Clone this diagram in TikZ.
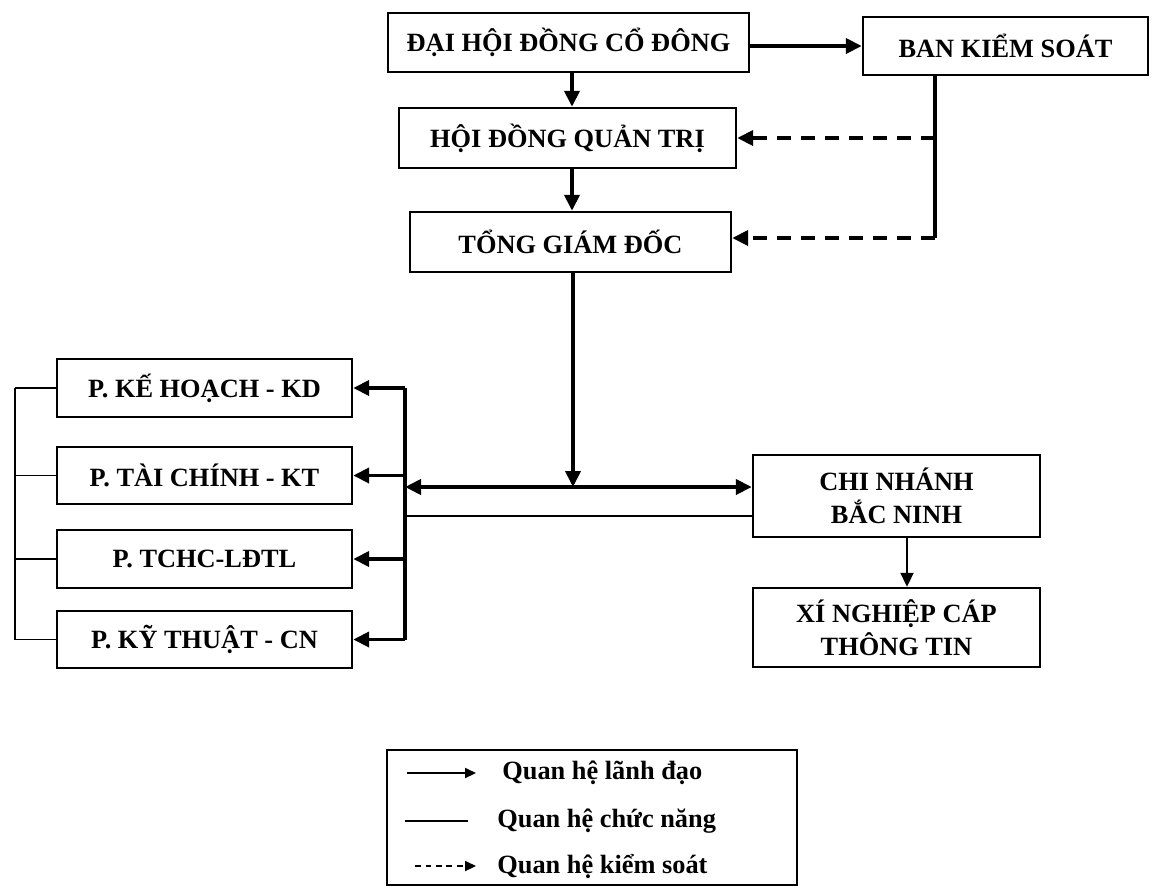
\documentclass[tikz,border=0pt]{standalone}
\usepackage{fontspec}
\setmainfont{Liberation Serif}
\usetikzlibrary{arrows.meta,positioning}

\tikzset{
  unit/.style={draw, line width=1.4pt, align=center, inner sep=2pt,
    font=\fontsize{15pt}{19pt}\selectfont\bfseries},
  lead/.style={line width=2.2pt, -{Triangle[length=0.32cm,width=0.3cm]}},
  ctrl/.style={lead, dash pattern=on 0.28cm off 0.2cm},
  func/.style={line width=1pt},
  keytext/.style={anchor=west, inner sep=0pt, font=\fontsize{15pt}{18pt}\selectfont\bfseries},
}

\begin{document}
\begin{tikzpicture}[x=0.02cm, y=-0.02cm]
  \useasboundingbox (0,0) rectangle (1157,893);

  % Top levels
  \node[unit, minimum width=7.22cm, minimum height=1.18cm] (dhcd) at (568.5,42.5) {ĐẠI HỘI ĐỒNG CỔ ĐÔNG};
  \node[unit, minimum width=5.70cm, minimum height=1.16cm] (bks) at (1005.5,46) {BAN KIỂM SOÁT};
  \node[unit, minimum width=6.74cm, minimum height=1.20cm] (hdqt) at (567.5,138) {HỘI ĐỒNG QUẢN TRỊ};
  \node[unit, minimum width=6.42cm, minimum height=1.20cm] (tgd) at (570.5,242) {TỔNG GIÁM ĐỐC};

  % Departments
  \node[unit, minimum width=5.90cm, minimum height=1.16cm] (khkd) at (204.5,388) {P. KẾ HOẠCH - KD};
  \node[unit, minimum width=5.90cm, minimum height=1.14cm] (tckt) at (204.5,475.5) {P. TÀI CHÍNH - KT};
  \node[unit, minimum width=5.90cm, minimum height=1.16cm] (tchc) at (204.5,559) {P. TCHC-LĐTL};
  \node[unit, minimum width=5.90cm, minimum height=1.14cm] (ktcn) at (204.5,639.5) {P. KỸ THUẬT - CN};

  % Branch
  \node[unit, minimum width=5.74cm, minimum height=1.64cm] (cnbn) at (896.5,496) {CHI NHÁNH\\BẮC NINH};
  \node[unit, minimum width=5.74cm, minimum height=1.58cm] (xnct) at (896.5,627.5) {XÍ NGHIỆP CÁP\\THÔNG TIN};

  % Bus points
  \coordinate (busR) at (405,383);
  \coordinate (busL) at (15,388);
  \coordinate (hub) at (573,487);
  \coordinate (spine) at (572,0);
  \coordinate (ctl) at (935,238);
  \coordinate (drop) at (907,0);

  % Leadership
  \draw[lead] (dhcd.east |- bks.west) -- (bks.west);
  \draw[lead] (dhcd.south -| spine) -- (hdqt.north -| spine);
  \draw[lead] (hdqt.south -| spine) -- (tgd.north -| spine);
  \draw[lead] (tgd.south -| hub) -- (hub);
  \draw[lead, {Triangle[length=0.32cm,width=0.3cm]}-{Triangle[length=0.32cm,width=0.3cm]}]
    (busR |- hub) -- (cnbn.west |- hub);
  \draw[line width=2.2pt] (busR |- khkd.east) -- (busR |- ktcn.east);
  \foreach \d in {khkd,tckt,tchc,ktcn}
    \draw[lead] (busR |- \d.east) -- (\d.east);
  \draw[line width=1.2pt, -{Triangle[length=0.28cm,width=0.26cm]}] (cnbn.south -| drop) -- (xnct.north -| drop);

  % Control
  \draw[line width=2.2pt] (bks.south -| ctl) -- (ctl);
  \draw[ctrl] (ctl |- hdqt.east) -- (hdqt.east);
  \draw[ctrl] (ctl) -- (tgd.east |- ctl);

  % Function
  \draw[func] (busR |- 0,516) -- (cnbn.west |- 0,516);
  \draw[func] (busL |- khkd.west) -- (busL |- ktcn.west);
  \foreach \d in {khkd,tckt,tchc,ktcn}
    \draw[func] (busL |- \d.west) -- (\d.west);

  % Legend
  \node[draw, line width=1.4pt, minimum width=8.2cm, minimum height=2.7cm] (legend) at (592,817.5) {};
  \node[keytext] (key1) at (502,773) {Quan hệ lãnh đạo};
  \node[keytext] (key2) at (497,821) {Quan hệ chức năng};
  \node[keytext] (key3) at (497,866) {Quan hệ kiểm soát};
  \coordinate (s1) at (407,773);
  \coordinate (s2) at (405,821);
  \coordinate (s3) at (415,866);
  \draw[line width=1.2pt, -{Triangle[length=0.22cm,width=0.2cm]}] (s1) -- (s1 -| 476,0);
  \draw[line width=1.2pt] (s2) -- (s2 -| 468,0);
  \draw[line width=1.2pt, dash pattern=on 0.12cm off 0.09cm, -{Triangle[length=0.22cm,width=0.2cm]}] (s3) -- (s3 -| 476,0);
\end{tikzpicture}
\end{document}
